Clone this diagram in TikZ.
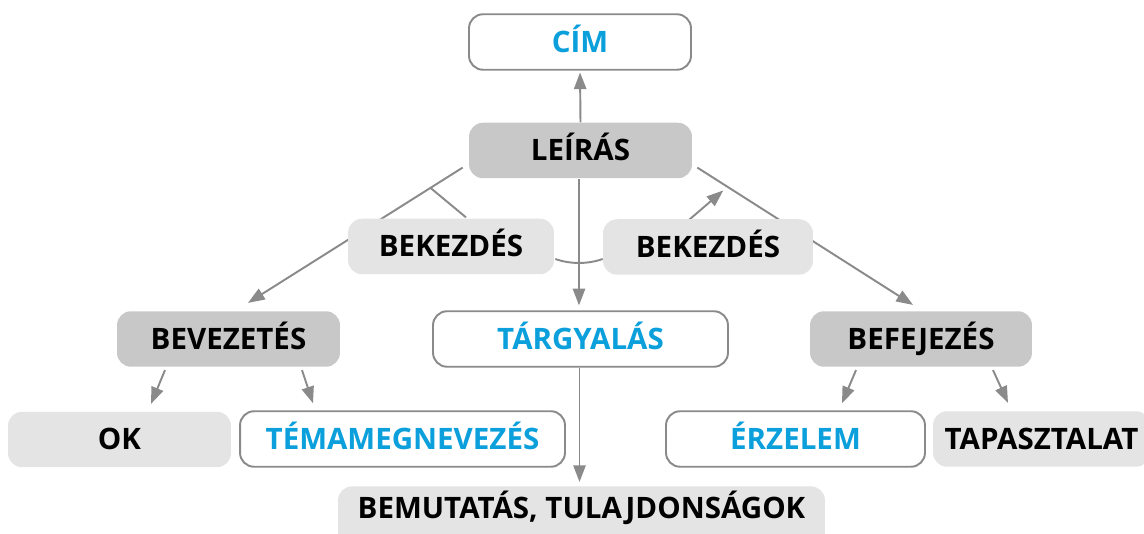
\documentclass[tikz,border=0pt]{standalone}
\usepackage{fontspec}
\setmainfont{Open Sans}
\usetikzlibrary{arrows.meta}
\usetikzlibrary{calc}
\definecolor{titleblue}{HTML}{0B9FDB}
\definecolor{darkbox}{HTML}{C8C8C8}
\definecolor{lightbox}{HTML}{E4E4E4}
\definecolor{edgegray}{HTML}{8A8A8A}
\pgfdeclarelayer{background}
\pgfsetlayers{background,main}
\tikzset{
  box/.style={rounded corners=0.28cm, minimum height=1.11cm, text height=0.42cm, text depth=0cm,
    inner xsep=0pt, font=\fontsize{16.8}{19}\selectfont\bfseries},
  mainbox/.style={box, fill=darkbox, text=black},
  subbox/.style={box, fill=lightbox, text=black},
  keybox/.style={box, fill=white, draw=edgegray, line width=1.1pt, text=titleblue},
  conn/.style={draw=edgegray, line width=1.1pt, -{Triangle[length=9.5pt, width=7pt]}},
  link/.style={draw=edgegray, line width=1.1pt}
}

\begin{document}
\begin{tikzpicture}[line cap=round,line join=round, x=0.02cm, y=0.02cm]
\clip (0,0) rectangle (1144,534);
% top
\node[keybox, minimum width=4.44cm] (cim) at (580,492) {CÍM};
\node[mainbox, minimum width=4.46cm] (leiras) at (580.5,383.5) {LEÍRÁS};
% linking phrases
\node[subbox, minimum width=4.12cm] (bekL) at (451,287.5) {BEKEZDÉS};
\node[subbox, minimum width=4.2cm] (bekR) at (708,287) {BEKEZDÉS};
% middle row
\node[mainbox, minimum width=4.46cm] (bevezetes) at (228.5,195) {BEVEZETÉS};
\node[keybox, minimum width=5.9cm] (targyalas) at (580.5,195) {TÁRGYALÁS};
\node[mainbox, minimum width=4.44cm] (befejezes) at (921,195) {BEFEJEZÉS};
% bottom row
\node[subbox, minimum width=4.46cm] (ok) at (119.5,94.5) {OK};
\node[keybox, minimum width=6.5cm] (tema) at (402.5,95) {TÉMAMEGNEVEZÉS};
\node[keybox, minimum width=5.18cm] (erzelem) at (795.5,95) {ÉRZELEM};
\node[subbox, minimum width=4.34cm] (tapasztalat) at (1041.5,95) {TAPASZTALAT};
\node[subbox, minimum width=9.74cm, anchor=north, inner ysep=0.23cm, text depth=0.8cm] (bemutatas) at (581.5,48) {BEMUTATÁS, TULAJDONSÁGOK};

\begin{pgfonlayer}{background}
\draw[conn, shorten >=1pt] (leiras.north) -- (cim.south);
\draw[conn, shorten >=2.8pt] ($(leiras.south)+(-1.5,0)$) -- ($(leiras.south |- targyalas.north)+(-1.5,0)$);
\draw[conn, shorten >=2.3pt] ($(targyalas.south)+(-1,0)$) -- ($(targyalas.south |- bemutatas.north)+(-1,0)$);
% side branches
\draw[conn] ($(leiras.south west)+(-6,11)$) coordinate (l0) -- ($(bevezetes.north)+(19.5,8)$) coordinate (l1);
\draw[conn] ($(leiras.south east)+(5,11)$) coordinate (r0) -- ($(befejezes.north)+(-8,6)$) coordinate (r1);
\path (l0) -- (l1) coordinate[pos=0.15] (lj);
\path (r0) -- (r1) coordinate[pos=0.14] (rj);
\draw[link] ($(bekL.north)+(15,1)$) -- (lj);
\draw[conn, shorten >=3.2pt] ($(bekR.north)+(-19,-1)$) -- (rj);
\draw[link] ($(bekL.east)+(1,-12.5)$) .. controls +(15,-5.3) and +(-15,-5.3) .. ($(bekR.west)+(0,-12)$);
% lower arrows
\draw[conn] ($(bevezetes.south)+(-63.5,-3)$) -- ($(ok.north)+(31.5,7.5)$);
\draw[conn] ($(bevezetes.south)+(73.5,-3)$) -- ($(tema.north)+(-89.5,7)$);
\draw[conn] ($(befejezes.south)+(-65,-3)$) -- ($(erzelem.north)+(46.5,7)$);
\draw[conn] ($(befejezes.south)+(72,-3)$) -- ($(tapasztalat.north)+(-33.5,8)$);
\end{pgfonlayer}
\end{tikzpicture}
\end{document}
